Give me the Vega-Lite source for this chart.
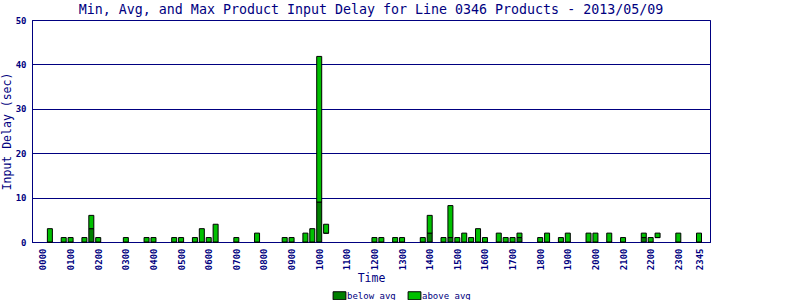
{
  "$schema": "https://vega.github.io/schema/vega-lite/v6.json",
  "width": 678,
  "height": 222,
  "autosize": {"type": "none"},
  "padding": {"left": 32, "top": 20, "right": 90, "bottom": 58},
  "background": "white",
  "title": {
    "text": "Min, Avg, and Max Product Input Delay for Line 0346 Products - 2013/05/09",
    "font": "DejaVu Sans Mono",
    "fontSize": 13.3,
    "fontWeight": "normal",
    "color": "#000080",
    "anchor": "middle",
    "offset": 0
  },
  "config": {
    "view": {"stroke": "#000080", "strokeWidth": 1},
    "axis": {"domainColor": "#000080", "gridColor": "#000080", "gridOpacity": 1, "gridWidth": 1, "tickColor": "#000080", "labelColor": "#000080", "titleColor": "#000080"}
  },
  "data": {
    "values": [
      {"t": 15, "min": 0, "avg": 0, "max": 3},
      {"t": 45, "min": 0, "avg": 0, "max": 1},
      {"t": 60, "min": 0, "avg": 0, "max": 1},
      {"t": 90, "min": 0, "avg": 0, "max": 1},
      {"t": 105, "min": 0, "avg": 3, "max": 6},
      {"t": 120, "min": 0, "avg": 0, "max": 1},
      {"t": 180, "min": 0, "avg": 0, "max": 1},
      {"t": 225, "min": 0, "avg": 0, "max": 1},
      {"t": 240, "min": 0, "avg": 0, "max": 1},
      {"t": 285, "min": 0, "avg": 0, "max": 1},
      {"t": 300, "min": 0, "avg": 0, "max": 1},
      {"t": 330, "min": 0, "avg": 0, "max": 1},
      {"t": 345, "min": 0, "avg": 0, "max": 3},
      {"t": 360, "min": 0, "avg": 0, "max": 1},
      {"t": 375, "min": 0, "avg": 0, "max": 4},
      {"t": 420, "min": 0, "avg": 0, "max": 1},
      {"t": 465, "min": 0, "avg": 0, "max": 2},
      {"t": 525, "min": 0, "avg": 0, "max": 1},
      {"t": 540, "min": 0, "avg": 0, "max": 1},
      {"t": 570, "min": 0, "avg": 0, "max": 2},
      {"t": 585, "min": 0, "avg": 0, "max": 3},
      {"t": 600, "min": 0, "avg": 9, "max": 41.8},
      {"t": 615, "min": 2, "avg": 2, "max": 4},
      {"t": 720, "min": 0, "avg": 0, "max": 1},
      {"t": 735, "min": 0, "avg": 0, "max": 1},
      {"t": 765, "min": 0, "avg": 0, "max": 1},
      {"t": 780, "min": 0, "avg": 0, "max": 1},
      {"t": 825, "min": 0, "avg": 0, "max": 1},
      {"t": 840, "min": 0, "avg": 2, "max": 6},
      {"t": 870, "min": 0, "avg": 0, "max": 1},
      {"t": 885, "min": 0, "avg": 1, "max": 8.2},
      {"t": 900, "min": 0, "avg": 0, "max": 1},
      {"t": 915, "min": 0, "avg": 0, "max": 2},
      {"t": 930, "min": 0, "avg": 0, "max": 1},
      {"t": 945, "min": 0, "avg": 0, "max": 3},
      {"t": 960, "min": 0, "avg": 0, "max": 1},
      {"t": 990, "min": 0, "avg": 0, "max": 2},
      {"t": 1005, "min": 0, "avg": 0, "max": 1},
      {"t": 1020, "min": 0, "avg": 0, "max": 1},
      {"t": 1035, "min": 0, "avg": 1, "max": 2},
      {"t": 1080, "min": 0, "avg": 0, "max": 1},
      {"t": 1095, "min": 0, "avg": 0, "max": 2},
      {"t": 1125, "min": 0, "avg": 0, "max": 1},
      {"t": 1140, "min": 0, "avg": 0, "max": 2},
      {"t": 1185, "min": 0, "avg": 0, "max": 2},
      {"t": 1200, "min": 0, "avg": 0, "max": 2},
      {"t": 1230, "min": 0, "avg": 0, "max": 2},
      {"t": 1260, "min": 0, "avg": 0, "max": 1},
      {"t": 1305, "min": 0, "avg": 1, "max": 2},
      {"t": 1320, "min": 0, "avg": 0, "max": 1},
      {"t": 1335, "min": 1, "avg": 1, "max": 2},
      {"t": 1380, "min": 0, "avg": 0, "max": 2},
      {"t": 1425, "min": 0, "avg": 0, "max": 2}
    ]
  },
  "encoding": {
    "x": {
      "field": "t",
      "type": "quantitative",
      "title": "Time",
      "scale": {"domain": [-13, 1438], "nice": false, "zero": false},
      "axis": {
        "values": [0, 60, 120, 180, 240, 300, 360, 420, 480, 540, 600, 660, 720, 780, 840, 900, 960, 1020, 1080, 1140, 1200, 1260, 1320, 1380, 1425],
        "labelExpr": "timeFormat(datetime(2013,4,9,0,datum.value),'%H%M')",
        "labelAngle": 270,
        "labelFont": "DejaVu Sans Mono",
        "labelFontSize": 9,
        "labelFontWeight": "bold",
        "labelPadding": 6,
        "ticks": false,
        "grid": false,
        "labelOverlap": false,
        "labelFlush": false,
        "titleFont": "DejaVu Sans Mono",
        "titleFontSize": 11.5,
        "titleFontWeight": "normal",
        "titlePadding": 3
      }
    }
  },
  "layer": [
    {
      "mark": {"type": "bar", "width": 5, "stroke": "black", "strokeWidth": 1},
      "encoding": {
        "y": {
          "field": "min",
          "type": "quantitative",
          "title": "Input Delay (sec)",
          "scale": {"domain": [0, 50], "nice": false},
          "axis": {
            "values": [0, 10, 20, 30, 40, 50],
            "labelFont": "DejaVu Sans Mono",
            "labelFontSize": 9,
            "labelFontWeight": "bold",
            "labelPadding": 6,
            "ticks": false,
            "grid": true,
            "titleFont": "DejaVu Sans Mono",
            "titleFontSize": 11.5,
            "titleFontWeight": "normal",
            "titlePadding": 3
          }
        },
        "y2": {"field": "avg"},
        "color": {
          "datum": "below avg",
          "scale": {"domain": ["below avg", "above avg"], "range": ["#008000", "#00c000"]},
          "legend": {
            "title": null,
            "orient": "none",
            "direction": "horizontal",
            "legendX": 303,
            "legendY": 271,
            "padding": 0,
            "symbolType": "M-1.6,-1H1.6V1H-1.6Z",
            "symbolSize": 64,
            "symbolStrokeColor": "#808080",
            "symbolStrokeWidth": 1,
            "symbolOpacity": 1,
            "labelFont": "DejaVu Sans Mono",
            "labelFontSize": 9,
            "labelFontWeight": "normal",
            "labelColor": "#000080",
            "labelOffset": 3,
            "columnPadding": 10
          }
        }
      }
    },
    {
      "mark": {"type": "bar", "width": 5, "stroke": "black", "strokeWidth": 1},
      "encoding": {
        "y": {"field": "avg", "type": "quantitative"},
        "y2": {"field": "max"},
        "color": {"datum": "above avg"}
      }
    }
  ]
}
